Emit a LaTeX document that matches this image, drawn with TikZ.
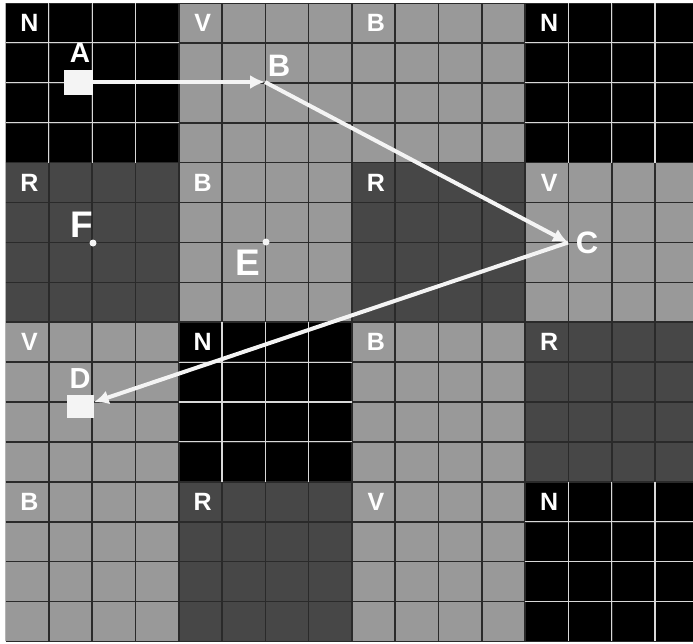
\documentclass[tikz,border=0pt]{standalone}
\usepackage{fontspec}
\setmainfont{Liberation Sans}
\usetikzlibrary{arrows.meta}
\definecolor{colN}{HTML}{000000}
\definecolor{colV}{HTML}{999999}
\definecolor{colB}{HTML}{999999}
\definecolor{colR}{HTML}{474747}
\definecolor{lndark}{HTML}{2A2A2A}
\definecolor{lnlight}{HTML}{D8D8D8}
\definecolor{wt}{HTML}{F4F4F4}
\tikzset{
  darkline/.style={draw=lndark, line width=1.6pt},
  lightline/.style={draw=lnlight, line width=1.1pt},
  blklbl/.style={text=white, inner sep=0pt, font=\fontsize{25}{25}\selectfont\bfseries},
  ptlbl/.style={text=white, inner sep=0pt, anchor=base},
  arr/.style={draw=wt, line width=4pt, -{Latex[length=15pt,width=14pt]}},
  sq/.style={fill=wt, draw=none, rectangle, inner sep=0pt},
  dot/.style={fill=wt, circle, inner sep=0pt, minimum size=7pt}
}
\begin{document}
\begin{tikzpicture}[x=1pt,y=-1pt]
\useasboundingbox (0,0) rectangle (693,643);
\fill[white] (0,0) rectangle (693,643);
\begin{scope}
\clip (5.5,3) rectangle (693,641.4);
% blocks
\foreach \c/\r/\t in {0/0/N,1/0/V,2/0/B,3/0/N, 0/1/R,1/1/B,2/1/R,3/1/V, 0/2/V,1/2/N,2/2/B,3/2/R, 0/3/B,1/3/R,2/3/V,3/3/N}{
  \pgfmathsetmacro\bx{5.5+\c*173.2}
  \pgfmathsetmacro\by{3+\r*159.6}
  \fill[fill=col\t] (\bx,\by) rectangle ++(173.2,159.6);
}
% dark grid lines
\foreach \i in {0,...,16}{
  \pgfmathsetmacro\gx{5.5+\i*43.3}
  \pgfmathsetmacro\gy{3+\i*39.9}
  \draw[darkline] (\gx,3) -- (\gx,641.4);
  \draw[darkline] (5.5,\gy) -- (698.3,\gy);
}
% light lines inside black blocks
\foreach \c/\r in {0/0,3/0,1/2,3/3}{
  \pgfmathsetmacro\bx{5.5+\c*173.2}
  \pgfmathsetmacro\by{3+\r*159.6}
  \foreach \i in {1,2,3}{
    \draw[lightline] (\bx+\i*43.3,\by) -- ++(0,159.6);
    \draw[lightline] (\bx,\by+\i*39.9) -- ++(173.2,0);
  }
}
% block letters
\foreach \c/\r/\t in {0/0/N,1/0/V,2/0/B,3/0/N, 0/1/R,1/1/B,2/1/R,3/1/V, 0/2/V,1/2/N,2/2/B,3/2/R, 0/3/B,1/3/R,2/3/V,3/3/N}{
  \pgfmathsetmacro\bx{5.5+\c*173.2}
  \pgfmathsetmacro\by{3+\r*159.6}
  \node[blklbl] (bl-\c-\r) at (\bx+24,\by+20) {\t};
}
\end{scope}
% points
\node[sq, minimum width=29pt, minimum height=25pt] (A) at (78.5,82) {};
\coordinate (B) at (265,82);
\coordinate (C) at (568,242.5);
\node[sq, minimum width=27pt, minimum height=23pt] (D) at (80,406) {};
\node[dot] (E) at (266,242) {};
\node[dot] (F) at (93,243) {};
% connectors
\draw[arr] (A.east) -- (B);
\draw[arr] (B) -- (C);
\draw[arr] (C) -- (D.15);
% point labels
\node[ptlbl, font=\fontsize{28}{28}\selectfont\bfseries] (lA) at (80,62) {A};
\node[ptlbl, font=\fontsize{31}{31}\selectfont\bfseries] (lB) at (279,76) {B};
\node[ptlbl, font=\fontsize{31}{31}\selectfont\bfseries] (lC) at (587,253) {C};
\node[ptlbl, font=\fontsize{29}{29}\selectfont\bfseries] (lD) at (80,388) {D};
\node[ptlbl, font=\fontsize{37}{37}\selectfont\bfseries] (lE) at (248,275) {E};
\node[ptlbl, font=\fontsize{37}{37}\selectfont\bfseries] (lF) at (82,237) {F};
\end{tikzpicture}
\end{document}
